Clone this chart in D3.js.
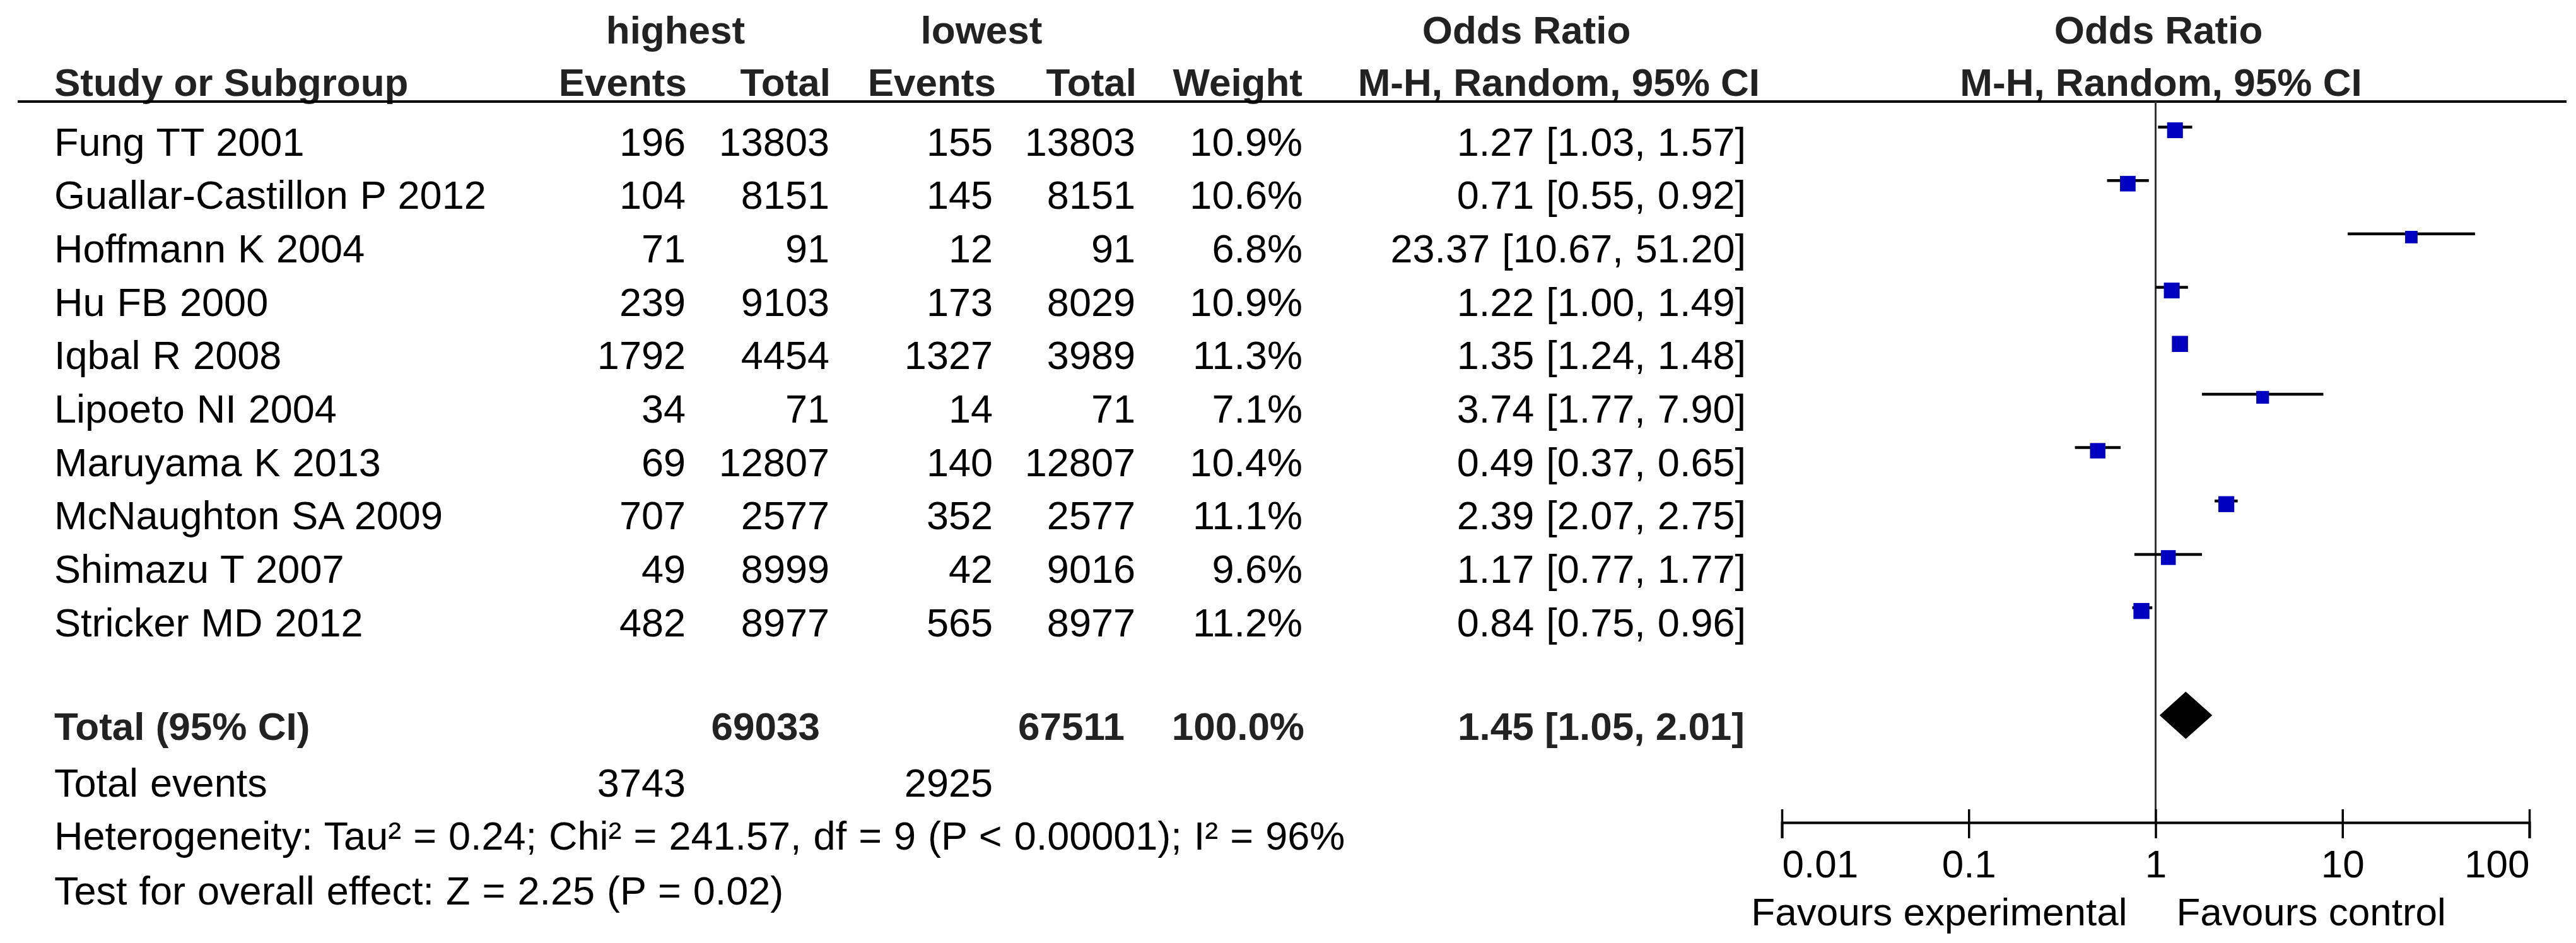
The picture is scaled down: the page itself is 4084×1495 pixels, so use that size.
<!DOCTYPE html>
<html><head><meta charset="utf-8">
<script src="https://cdn.jsdelivr.net/npm/d3@7"></script>
<style>
html,body{margin:0;padding:0;background:#fff;}
svg{display:block;}
text{font-family:"Liberation Sans", Arial, Helvetica, sans-serif;}
</style>
</head><body>
<svg id="chart" width="4084" height="1495"></svg>
<script>
// ---------- data ----------
const studies = ["Fung TT 2001","Guallar-Castillon P 2012","Hoffmann K 2004","Hu FB 2000","Iqbal R 2008","Lipoeto NI 2004","Maruyama K 2013","McNaughton SA 2009","Shimazu T 2007","Stricker MD 2012"];
const highEvents = [196,104,71,239,1792,34,69,707,49,482];
const highTotal  = [13803,8151,91,9103,4454,71,12807,2577,8999,8977];
const lowEvents  = [155,145,12,173,1327,14,140,352,42,565];
const lowTotal   = [13803,8151,91,8029,3989,71,12807,2577,9016,8977];
const weights    = [10.9,10.6,6.8,10.9,11.3,7.1,10.4,11.1,9.6,11.2];
const oddsRatio  = [1.27,0.71,23.37,1.22,1.35,3.74,0.49,2.39,1.17,0.84];
const ciLower    = [1.03,0.55,10.67,1.00,1.24,1.77,0.37,2.07,0.77,0.75];
const ciUpper    = [1.57,0.92,51.20,1.49,1.48,7.90,0.65,2.75,1.77,0.96];
const pooled     = {or:1.45, lo:1.05, hi:2.01};
const totalHigh = 69033, totalLow = 67511, totalWeight = "100.0%";
const eventsHigh = 3743, eventsLow = 2925;
const axisTicks = [0.01,0.1,1,10,100];
const axisTickLabels = ["0.01","0.1","1","10","100"];
const heterogeneityText = "Heterogeneity: Tau\u00b2 = 0.24; Chi\u00b2 = 241.57, df = 9 (P < 0.00001); I\u00b2 = 96%";
const overallText = "Test for overall effect: Z = 2.25 (P = 0.02)";
const favoursLeft = "Favours experimental", favoursRight = "Favours control";

// ---------- layout ----------
const svg = d3.select("#chart");
svg.append("rect").attr("width",4084).attr("height",1495).attr("fill","#fff");
const FS = 63, FSB = 62;
const rowY = d3.scaleLinear().domain([0,14]).range([246.5,1432]);
const x = d3.scaleLog().domain([0.01,100]).range([2825,4010]);
const side = d3.scaleSqrt().domain([0, 11.3]).range([0, 25.5]);
const col = {study:86, hEv:1087, hTot:1315, lEv:1574, lTot:1800, weight:2065, ci:2768};
const axisY = 1304, headerLineY = 161;
const f2 = d3.format(".2f");

function txt(g, s, xx, yy, anchor, bold, color){
  return g.append("text").attr("x",xx).attr("y",yy).attr("text-anchor",anchor||"start")
    .attr("font-size",bold?FSB:FS).attr("font-weight",bold?"bold":"normal")
    .attr("word-spacing", bold?0:1.5)
    .attr("fill", color || (bold?"#222":"#000")).text(s);
}

const T = svg.append("g");
// header row 1
txt(T,"highest",1071,69,"middle",true);
txt(T,"lowest",1556,69,"middle",true);
txt(T,"Odds Ratio",2420,69,"middle",true);
txt(T,"Odds Ratio",3422,69,"middle",true);
// header row 2
txt(T,"Study or Subgroup",col.study,152,"start",true);
txt(T,"Events",1089,152,"end",true);
txt(T,"Total",1317,152,"end",true);
txt(T,"Events",1579,152,"end",true);
txt(T,"Total",1802,152,"end",true);
txt(T,"Weight",col.weight,152,"end",true);
txt(T,"M-H, Random, 95% CI",2790,152,"end",true);
txt(T,"M-H, Random, 95% CI",3426,152,"middle",true);
// header line
T.append("line").attr("x1",28).attr("x2",4069).attr("y1",headerLineY).attr("y2",headerLineY)
  .attr("stroke","#000").attr("stroke-width",4);

// reference line at OR = 1
svg.append("line").attr("x1",x(1)).attr("x2",x(1)).attr("y1",headerLineY).attr("y2",axisY)
  .attr("stroke","#333").attr("stroke-width",3);

// study rows
studies.forEach((s,i)=>{
  const y = rowY(i);
  txt(T,s,col.study,y,"start");
  txt(T,highEvents[i],col.hEv,y,"end");
  txt(T,highTotal[i],col.hTot,y,"end");
  txt(T,lowEvents[i],col.lEv,y,"end");
  txt(T,lowTotal[i],col.lTot,y,"end");
  txt(T,weights[i].toFixed(1)+"%",col.weight,y,"end");
  txt(T,`${f2(oddsRatio[i])} [${f2(ciLower[i])}, ${f2(ciUpper[i])}]`,col.ci,y,"end");
});

// forest marks
const P = svg.append("g");
P.selectAll("line.ci").data(studies).join("line").attr("class","ci")
  .attr("x1",(d,i)=>x(ciLower[i])).attr("x2",(d,i)=>x(ciUpper[i]))
  .attr("y1",(d,i)=>rowY(i)-45).attr("y2",(d,i)=>rowY(i)-45)
  .attr("stroke","#000").attr("stroke-width",4.5);
P.selectAll("rect.sq").data(studies).join("rect").attr("class","sq")
  .attr("x",(d,i)=>x(oddsRatio[i])-side(weights[i])/2)
  .attr("y",(d,i)=>rowY(i)-40-side(weights[i])/2)
  .attr("width",(d,i)=>side(weights[i])).attr("height",(d,i)=>side(weights[i]))
  .attr("fill","#0000c0");

// total row
const totalIdx = 10.94;
const yT = rowY(totalIdx);
txt(T,"Total (95% CI)",col.study,yT,"start",true);
txt(T,totalHigh,1300,yT,"end",true);
txt(T,totalLow,1783,yT,"end",true);
txt(T,totalWeight,2068,yT,"end",true);
txt(T,`${f2(pooled.or)} [${f2(pooled.lo)}, ${f2(pooled.hi)}]`,2766,yT,"end",true);
const dy = yT-39, dh = 37.5;
P.append("path")
  .attr("d",`M${x(pooled.lo)},${dy} L${x(pooled.or)},${dy-dh} L${x(pooled.hi)},${dy} L${x(pooled.or)},${dy+dh} Z`)
  .attr("fill","#000");

// total events etc
txt(T,"Total events",col.study,rowY(12),"start");
txt(T,eventsHigh,col.hEv,rowY(12),"end");
txt(T,eventsLow,col.lEv,rowY(12),"end");
txt(T,heterogeneityText,col.study,rowY(13),"start");
txt(T,overallText,col.study,rowY(14)+2,"start");

// axis
const axis = d3.axisBottom(x).tickValues(axisTicks)
  .tickFormat((d,i)=>axisTickLabels[i]).tickSizeOuter(0).tickSize(25);
const ag = svg.append("g").attr("transform",`translate(0,${axisY})`).call(axis);
ag.select(".domain").attr("stroke","#000").attr("stroke-width",4);
ag.selectAll(".tick line").attr("y1",-21).attr("y2",25).attr("stroke","#000").attr("stroke-width",3.5);
ag.selectAll(".tick text").attr("y",87).attr("dy",null)
  .attr("font-size",FSB).attr("font-family","'Liberation Sans', Arial, sans-serif").attr("fill","#000")
  .attr("text-anchor",(d,i)=> i===0?"start":(i===axisTicks.length-1?"end":"middle"));
txt(svg,favoursLeft,x(1)-45,1467,"end").attr("font-size",FSB).attr("word-spacing",0);
txt(svg,favoursRight,x(1)+33,1467,"start").attr("font-size",FSB).attr("word-spacing",0);
</script>
</body></html>
